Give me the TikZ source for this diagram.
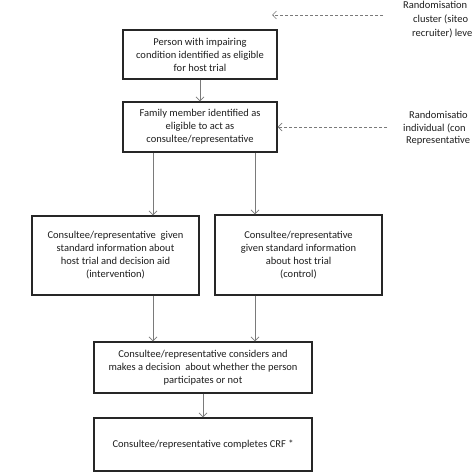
\documentclass[tikz,border=0pt]{standalone}
\usepackage{fontspec}
\setmainfont{Carlito}
\usetikzlibrary{arrows.meta}
\definecolor{boxline}{HTML}{262626}
\definecolor{conn}{HTML}{7A7A7A}
\definecolor{txt}{HTML}{1E1E1E}
\begin{document}
\begin{tikzpicture}[x=1pt,y=-1pt,
  flowbox/.style={draw=boxline,line width=1.2pt,align=center,inner sep=2pt,
    font=\fontsize{10.5}{13}\selectfont,text=txt},
  arr/.style={draw=conn,line width=0.8pt,-{Straight Barb[length=4pt,width=8pt]}},
  darr/.style={draw=conn,line width=0.7pt,dash pattern=on 3pt off 2pt,-{Straight Barb[length=4pt,width=8pt]}},
  sidetext/.style={anchor=west,inner sep=0pt,font=\fontsize{10.5}{13}\selectfont,text=txt}]
\useasboundingbox (0,0) rectangle (474,474);
\clip (0,0) rectangle (474,474);
\fill[white] (0,0) rectangle (474,474);

\node[flowbox,minimum width=154pt,minimum height=49pt] (b1) at (200,54.5)
  {Person with impairing\\condition identified as eligible\\for host trial};
\node[flowbox,minimum width=154pt,minimum height=50pt] (b2) at (200,127)
  {Family member identified as\\eligible to act as\\consultee/representative};
\node[flowbox,minimum width=167pt,minimum height=79pt] (b3) at (115.5,255.5)
  {Consultee/representative\ \ given\\standard information about\\host trial and decision aid\\(intervention)};
\node[flowbox,minimum width=167pt,minimum height=80pt] (b4) at (298.5,255)
  {Consultee/representative\\given standard information\\about host trial\\(control)};
\node[flowbox,minimum width=218pt,minimum height=51pt] (b5) at (203,367.5)
  {Consultee/representative considers and\\makes a decision\ \ about whether the person\\participates or not};
\node[flowbox,minimum width=218pt,minimum height=53pt] (b6) at (203,444.5)
  {Consultee/representative completes CRF *};

\coordinate (xl) at (153,0);
\coordinate (xr) at (255,0);
\coordinate (d1s) at (383,15);
\coordinate (d1e) at (272,15);
\coordinate (d2s) at (387,127);

\draw[arr] (b1.south) -- (b2.north);
\draw[arr] (b2.south -| xl) -- (b3.north -| xl);
\draw[arr] (b2.south -| xr) -- (b4.north -| xr);
\draw[arr] (b3.south -| xl) -- (b5.north -| xl);
\draw[arr] (b4.south -| xr) -- (b5.north -| xr);
\draw[arr] (b5.south) -- (b6.north);

\draw[darr] (d1s) -- (d1e);
\draw[darr] (d2s) -- (b2.east);

\node[sidetext] (r1) at (403,5) {Randomisation};
\node[sidetext] (r2) at (413,19) {cluster (siteo};
\node[sidetext] (r3) at (412,33) {recruiter) leve};
\node[sidetext] (r4) at (409,115) {Randomisatio};
\node[sidetext] (r5) at (403,128) {individual (con};
\node[sidetext] (r6) at (406,141) {Representative};
\end{tikzpicture}
\end{document}
